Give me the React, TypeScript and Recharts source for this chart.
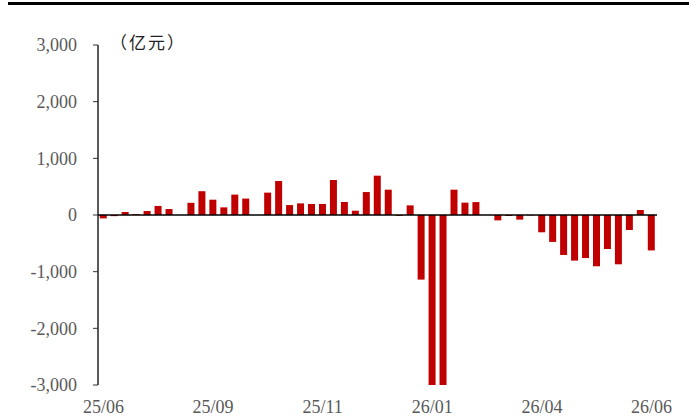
import React from 'react';
import { BarChart, Bar, XAxis, YAxis, ReferenceLine } from 'recharts';

// weekly net flow, 亿元
const flowValues = [
  -60, -20, 55, 15, 70, 160, 105, 0, 215, 420,
  270, 135, 360, 290, 0, 395, 600, 175, 205, 195,
  195, 618, 230, 76, 405, 694, 447, -15, 170, -1140,
  -3000, -3000, 447, 218, 228, 0, -95, -18, -82, -8,
  -305, -475, -705, -805, -760, -905, -600, -870, -265, 88,
  -625,
];

const tickLabels = ['25/06', '25/09', '25/11', '26/01', '26/04', '26/06'];
const yTicks = [-3000, -2000, -1000, 0, 1000, 2000, 3000];

const data = flowValues.map((v, i) => ({ idx: i, value: v }));

const fontFamily = '"Liberation Serif", "Times New Roman", serif';

const App: React.FC = () => (
  <div style={{ position: 'absolute', left: 0, top: 0, width: 699, height: 420, background: '#fff', fontFamily }}>
    <div style={{ position: 'absolute', left: 8, top: 2, width: 681, height: 3, background: '#000' }} />
    <div
      style={{
        position: 'absolute',
        left: 110,
        top: 29,
        fontFamily: '"Noto Sans CJK SC", sans-serif',
        fontSize: 17,
        letterSpacing: 2,
        color: '#222',
      }}
    >
      （亿元）
    </div>
    <BarChart
      width={699}
      height={420}
      data={data}
      margin={{ top: 45, right: 42, bottom: 5, left: 8 }}
      barCategoryGap="16%"
      style={{ fontFamily }}
    >
      <XAxis
        dataKey="idx"
        interval={9}
        axisLine={false}
        tickLine={false}
        tickSize={0}
        tickMargin={15}
        height={30}
        tickFormatter={(i: number) => (i % 10 === 0 ? tickLabels[i / 10] : '')}
        tick={{ fill: '#595959', fontSize: 18, fontFamily }}
      />
      <YAxis
        domain={[-3000, 3000]}
        ticks={yTicks}
        width={90}
        tickSize={5}
        tickMargin={16}
        axisLine={{ stroke: '#000', strokeWidth: 1.3 }}
        tickLine={{ stroke: '#333' }}
        tickFormatter={(v: number) => v.toLocaleString('en-US')}
        tick={{ fill: '#595959', fontSize: 18, fontFamily }}
      />
      <ReferenceLine y={0} stroke="#000" strokeWidth={1.5} />
      <Bar dataKey="value" fill="#C00000" isAnimationActive={false} />
    </BarChart>
  </div>
);

export default App;
